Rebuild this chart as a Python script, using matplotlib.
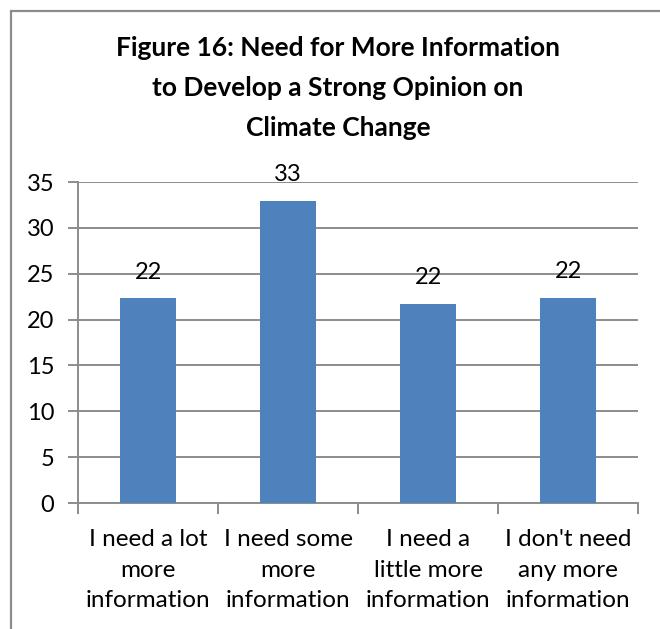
import matplotlib
matplotlib.use("Agg")
import matplotlib.pyplot as plt
from matplotlib.patches import Rectangle

categories = ["I need a lot\nmore\ninformation", "I need some\nmore\ninformation",
              "I need a\nlittle more\ninformation", "I don't need\nany more\ninformation"]
values = [22.3, 32.9, 21.7, 22.4]
value_labels = ["22", "33", "22", "22"]
yticks = [0, 5, 10, 15, 20, 25, 30, 35]
title = "Figure 16: Need for More Information\nto Develop a Strong Opinion on\nClimate Change"

plt.rcParams['font.family'] = ['Lato', 'DejaVu Sans']
W, H = 660, 629
fig = plt.figure(figsize=(W/100, H/100), dpi=100)
fig.patch.set_facecolor('white')

# outer border
fig.patches.append(Rectangle((11/W, -0.1), 1.2, 1 - 11/H + 0.1, transform=fig.transFigure,
                             fill=False, edgecolor='#8c8c8c', linewidth=1.6))

ax = fig.add_axes([78/W, 1 - 503/H, (638-78)/W, (503-182)/H])
x = list(range(len(categories)))
ax.bar(x, values, width=0.4, color='#4f81bd', zorder=3)
ax.set_xlim(-0.5, len(categories) - 0.5)
ax.set_ylim(0, 35)
ax.set_yticks(yticks)
ax.set_yticklabels([str(t) for t in yticks], fontsize=17)
ax.yaxis.grid(True, color='#8c8c8c', linewidth=1.4, zorder=0)
ax.set_axisbelow(True)

ax.set_xticks(x)
ax.set_xticklabels(categories, fontsize=17.5, linespacing=1.55)
ax.tick_params(axis='x', length=0, pad=19)
ax.set_xticks([i - 0.5 for i in range(len(categories) + 1)], minor=True)
ax.tick_params(axis='x', which='minor', length=8, color='#8c8c8c', width=1.4)
ax.tick_params(axis='y', length=7, color='#8c8c8c', width=1.4, pad=10)

for s in ['top', 'right']:
    ax.spines[s].set_visible(False)
for s in ['left', 'bottom']:
    ax.spines[s].set_color('#8c8c8c')
    ax.spines[s].set_linewidth(1.4)

for xi, v, lab in zip(x, values, value_labels):
    ax.annotate(lab, (xi, v), xytext=(0, 19), textcoords='offset points',
                ha='center', va='center', fontsize=17)

fig.text(338/W, 1 - 88/H, title, ha='center', va='center', fontsize=19,
         fontweight='bold', linespacing=1.78)

fig.savefig('out.png', dpi=100)
